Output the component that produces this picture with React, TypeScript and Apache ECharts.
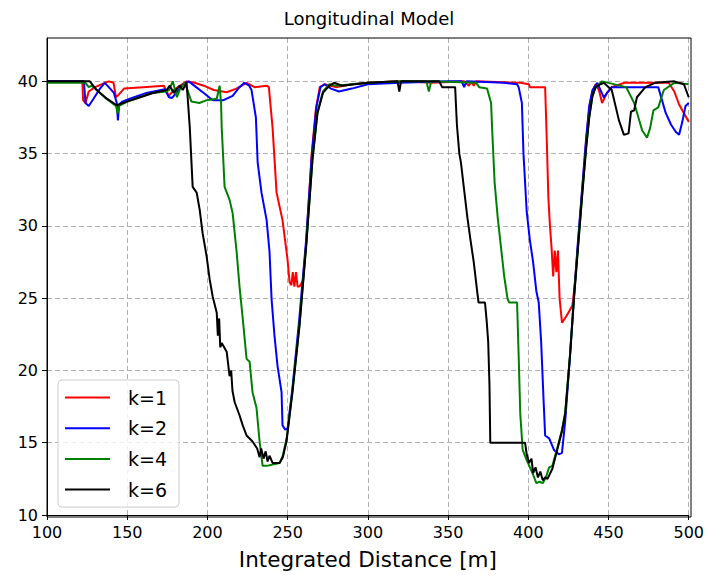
import React, { useEffect, useRef } from "react";
import * as echarts from "echarts";

const xTicks = [100, 150, 200, 250, 300, 350, 400, 450, 500];
const yTicks = [10, 15, 20, 25, 30, 35, 40];

const seriesNames = ["k=1", "k=2", "k=4", "k=6"];
const seriesColors = ["#ff0000", "#0000ff", "#008000", "#000000"];

const k1: [number, number][] = [
  [100, 40], [122, 40], [122.5, 38.7], [124, 38.5], [126, 39.3], [130, 39.6], [136, 39.9], [138.6, 40], [141.5, 39.9],
  [143, 38.9], [144, 39.0], [148, 39.5], [160, 39.6], [172.8, 39.7], [175.9, 39.0], [179, 39.4], [183, 39.7], [187, 40],
  [192, 39.9], [197.7, 39.7], [204, 39.4], [212, 39.25], [218, 39.5], [224.4, 39.9], [229.4, 39.6], [236.9, 39.7],
  [238.3, 39.6], [239.2, 38.5], [240.6, 36.8], [243.1, 32.3], [246.8, 30.4], [249.9, 27.7], [251.2, 26.1], [252.3, 25.9],
  [253.2, 26.8], [254.2, 25.8], [255.2, 26.8], [256.2, 25.8], [257.4, 25.8], [259.5, 26.2], [261.5, 28.7], [265, 35],
  [267.5, 38], [270, 39.6], [273, 39.8], [280, 39.6], [290, 39.8], [300, 39.9], [320, 40], [340, 39.9], [360, 40],
  [363, 39.7], [364.5, 40], [366, 39.7], [367.5, 40], [395, 39.9], [400.4, 39.8], [401, 39.6], [410.5, 39.6],
  [411.5, 36], [412.5, 32], [413.5, 30], [414.5, 28.5], [415.5, 26.5], [416.5, 28.3], [417.5, 26.8], [418.5, 28.3],
  [419.5, 25], [421, 23.3], [424, 23.8], [427.5, 24.5], [429, 26], [431, 28.8], [433.5, 32.3], [436, 35.8], [438, 38.2],
  [440, 39.3], [442, 39.8], [444, 39.4], [446, 38.5], [449, 39.2], [452, 39.6], [460, 39.9], [487.5, 39.9], [491, 39.3],
  [494, 38.4], [497, 37.8], [500, 37.2],
];

const k2: [number, number][] = [
  [100, 40], [123, 40], [124, 38.5], [126, 38.3], [129, 38.8], [133, 39.5], [136, 39.9], [138.5, 39.6], [141.7, 39.2],
  [143.5, 38.5], [144.2, 37.3], [145, 38.4], [147, 38.6], [151.6, 38.8], [162, 39.2], [173.4, 39.45], [176, 38.9],
  [178, 38.85], [182, 39.4], [185, 39.8], [188.3, 40], [193, 39.6], [197.7, 39.2], [203.3, 38.7], [210, 38.7],
  [215.7, 39.0], [220, 39.6], [223, 39.9], [226, 39.7], [227.5, 39.4], [230.2, 37.5], [231.3, 34.4], [233.7, 32.3],
  [236.9, 30.4], [238.7, 28.2], [240, 24.9], [241.8, 22.4], [243.7, 20.3], [246.2, 18.5], [246.8, 16.2], [248.5, 15.9],
  [250, 16], [253, 18.8], [257.2, 23.5], [261.5, 29], [265, 34.8], [268, 38.3], [270.5, 39.6], [273, 39.8], [277, 39.5],
  [282, 39.3], [290, 39.5], [300, 39.8], [320, 39.9], [350, 40], [358.5, 40], [360, 39.6], [361.5, 40], [385, 39.9],
  [393, 39.8], [394, 39.6], [396, 38.5], [397, 35], [399, 31], [401, 29], [403, 27.5], [405, 25.5], [406.5, 24.7],
  [408, 22], [409.5, 18], [410.5, 15.5], [413, 15.3], [416, 14.5], [419, 14.2], [421, 14.3], [423, 16.5], [426, 21],
  [428.5, 25.2], [431, 29], [433.5, 32.5], [436, 36], [438, 38.3], [440, 39.4], [443, 39.9], [447, 38.9], [452, 39.6],
  [481, 39.6], [485.7, 37.8], [489, 37], [492, 36.5], [494, 36.3], [496, 37.2], [498, 38.3], [500, 38.5],
];

const k4: [number, number][] = [
  [100, 39.9], [124, 39.9], [126, 39.6], [128, 39.7], [131, 39.4], [137, 38.8], [143, 38.3], [144, 37.8], [145, 38.3],
  [150, 38.6], [158, 38.9], [166, 39.2], [174, 39.3], [176, 39.4], [178.4, 40], [181, 38.9], [183, 39.5], [186, 39.9],
  [190, 38.6], [195, 38.5], [199.5, 38.7], [205.8, 38.8], [207.6, 39.7], [208.5, 38.5], [208.9, 36.8], [210.7, 32.7],
  [213.8, 31.8], [215.7, 30.9], [218.2, 28.2], [220, 25.8], [222, 23.6], [224.4, 20.8], [226.3, 20.6], [228.1, 18.5],
  [230.6, 17.4], [232.5, 15.1], [234.4, 13.4], [237, 13.4], [245, 13.6], [247, 14.1], [249.5, 15.4], [253, 18.6],
  [257.4, 23.2], [261.7, 28.9], [265.5, 34.7], [268.6, 37.9], [272, 39.3], [276, 39.8], [280, 39.7], [300, 39.9],
  [320, 40], [336.5, 40], [338, 39.3], [339.5, 40], [367.5, 39.9], [369.4, 39.6], [374.3, 39.5], [376.8, 38.5],
  [377.5, 36.6], [379, 33], [381, 30.5], [383, 28.5], [385, 26.5], [387, 25], [388, 24.7], [393, 24.7], [394, 21],
  [395, 17], [396.5, 14.5], [399, 13.8], [401, 13.3], [403, 12.8], [405, 12.2], [407, 12.3], [409, 12.2], [411, 12.6],
  [413, 13.3], [415, 13.4], [418, 14.6], [421, 15.9], [423, 17.1], [426, 21.1], [428.5, 25.1], [431, 28.6], [433.5, 32.1],
  [436, 35.4], [438, 37.6], [440, 39], [442, 39.6], [446, 40], [461, 39.6], [466, 38.5], [471, 36.6], [474, 36.1],
  [476, 36.8], [478, 38], [481, 38.2], [484.5, 39.4], [491, 39.9], [500, 39.8],
];

const k6: [number, number][] = [
  [100, 40], [126.7, 40], [131, 39.4], [137.3, 38.8], [143.5, 38.35], [149.8, 38.6], [157.9, 38.9], [166, 39.2],
  [174.6, 39.4], [176.5, 39.7], [179, 39.2], [182.7, 39.7], [184.6, 39.4], [187, 39.9], [187.8, 38.7], [189, 36.8],
  [190.8, 32.7], [193.3, 32.3], [195.2, 31.1], [197, 29.5], [199.5, 27.9], [201.4, 26.3], [203.3, 25.1], [205.8, 24],
  [206.5, 22.4], [207.3, 23.6], [208, 21.6], [208.9, 21.9], [212, 21.3], [213.8, 19.6], [214.8, 20], [215.6, 18.6],
  [217, 17.8], [220, 16.9], [222, 16.2], [224.4, 15.5], [228, 15.1], [231, 14.6], [232.5, 14.0], [233.5, 14.6],
  [235, 13.9], [236.3, 14.4], [237.5, 13.7], [238.7, 14.1], [240.6, 13.6], [245, 13.6], [247, 14], [249.3, 15.1],
  [253, 18.5], [257.4, 23.1], [261.7, 28.8], [265.5, 34.6], [268.6, 37.8], [272, 39.2], [276, 39.7], [279, 39.9],
  [284, 39.7], [300, 39.9], [318.5, 40], [319.6, 39.3], [320.7, 40], [344.5, 40], [346.3, 39.6], [354.4, 39.6],
  [355.5, 37], [357, 35], [358, 34.4], [360, 32.5], [362, 30.6], [364, 29], [366, 27.5], [368, 25.6], [369, 24.7],
  [373, 24.7], [374, 23.5], [375, 22], [375.8, 19], [376.3, 15], [398, 15], [399, 14.2], [400.5, 13.6], [402, 13.9],
  [403, 12.9], [404.5, 13.3], [406, 12.6], [407.5, 13.0], [409, 12.4], [410.5, 12.6], [412, 12.5], [415, 13.2],
  [418, 14.5], [421, 15.8], [423, 17], [426, 21], [428.5, 25], [431, 28.5], [433.5, 32], [436, 35.3], [438, 37.5],
  [440, 39], [442, 39.6], [445, 39.8], [447, 39.9], [452, 39.4], [456.5, 37.3], [459.6, 36.3], [462.5, 36.4],
  [464, 37.9], [466, 38], [467.7, 38.9], [473, 39.6], [479, 39.9], [491, 40], [497, 39.8], [500, 38.9],
];

const seriesData = [k1, k2, k4, k6];

export default function App() {
  const ref = useRef<HTMLDivElement>(null);
  useEffect(() => {
    document.body.style.margin = "0";
    if (!ref.current) return;
    const chart = echarts.init(ref.current, null, { renderer: "svg" });
    const font = "DejaVu Sans";
    const gl = 47, gr = 16, gt = 38, gb = 58, W = 707, H = 575;
    chart.setOption({
      animation: false,
      backgroundColor: "#ffffff",
      textStyle: { fontFamily: font },
      graphic: [
        {
          type: "text",
          x: 369,
          y: 18,
          style: {
            text: "Longitudinal Model",
            fontFamily: font,
            fontSize: 18,
            fill: "#000",
            align: "center",
            verticalAlign: "middle",
          },
          z: 10,
        },
        {
          type: "rect",
          shape: { x: gl, y: gt, width: W - gl - gr, height: H - gt - gb },
          style: { fill: "none", stroke: "#000", lineWidth: 1 },
          silent: true,
          z: 20,
        },
      ],
      grid: {
        left: gl,
        right: gr,
        top: gt,
        bottom: gb,
      },
      legend: {
        left: 58,
        top: 380,
        orient: "vertical",
        data: seriesNames.map((n) => ({ name: n, icon: "rect" })),
        itemWidth: 45,
        itemHeight: 2,
        itemGap: 10.7,
        padding: [7.5, 12, 7.5, 7],
        backgroundColor: "rgba(255,255,255,0.8)",
        borderColor: "#cccccc",
        borderWidth: 1,
        borderRadius: 4,
        textStyle: {
          fontFamily: font,
          fontSize: 19,
          color: "#000",
          lineHeight: 20,
          padding: [0, 0, 0, 13],
        },
      },
      xAxis: {
        type: "value",
        min: 100,
        max: 500,
        interval: 50,
        name: "Integrated Distance [m]",
        nameLocation: "middle",
        nameGap: 33,
        nameTextStyle: { fontFamily: font, fontSize: 21.5, color: "#000" },
        axisLine: { show: true, onZero: false, lineStyle: { color: "#000", width: 1 } },
        axisTick: { show: true, inside: false, length: 5, lineStyle: { color: "#000" } },
        axisLabel: { fontFamily: font, fontSize: 16, color: "#000", margin: 9 },
        splitLine: { show: true, lineStyle: { color: "#b0b0b0", type: [5, 3], width: 1 } },
      },
      yAxis: {
        type: "value",
        min: 10,
        max: 43,
        interval: 5,
        axisLine: { show: true, onZero: false, lineStyle: { color: "#000", width: 1 } },
        axisTick: { show: true, inside: false, length: 5, lineStyle: { color: "#000" }, customValues: yTicks },
        axisLabel: { fontFamily: font, fontSize: 16, color: "#000", margin: 9, customValues: yTicks },
        splitLine: { show: true, lineStyle: { color: "#b0b0b0", type: [5, 3], width: 1 } },
      },
      series: seriesNames.map((name, i) => ({
        name,
        type: "line",
        data: seriesData[i],
        symbol: "none",
        showSymbol: false,
        clip: true,
        lineStyle: { color: seriesColors[i], width: 2 },
        itemStyle: { color: seriesColors[i] },
        z: 2 + i,
      })),
    });
    return () => chart.dispose();
  }, []);
  return <div ref={ref} style={{ width: 707, height: 575 }} />;
}
